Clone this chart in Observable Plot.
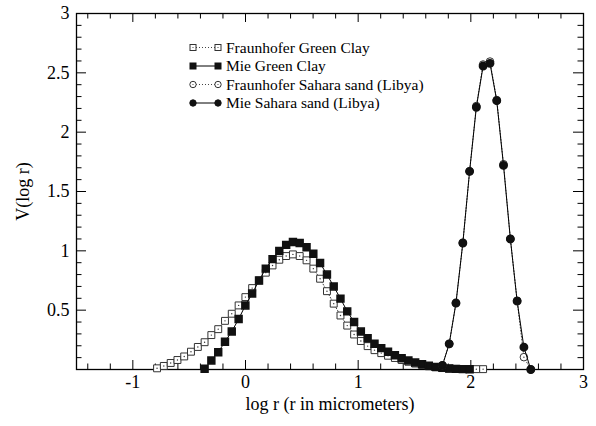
<!DOCTYPE html>
<html><head><meta charset="utf-8">
<script src="https://cdn.jsdelivr.net/npm/d3@7"></script>
<script src="https://cdn.jsdelivr.net/npm/@observablehq/plot@0.6"></script>
<style>body{margin:0;background:#fff}#chart{width:596px;height:426px}</style>
</head><body><div id="chart"></div>
<script>
// log r grid (r in micrometers)
const logR = [-0.785,-0.725,-0.664,-0.604,-0.544,-0.484,-0.423,-0.363,-0.303,-0.242,
  -0.182,-0.122,-0.061,-0.001,0.059,0.120,0.180,0.240,0.300,0.361,
  0.421,0.481,0.542,0.602,0.662,0.723,0.783,0.843,0.903,0.964,
  1.024,1.084,1.145,1.205,1.265,1.326,1.386,1.446,1.506,1.567,
  1.627,1.687,1.748,1.808,1.868,1.929,1.989,2.049,2.109,2.170,
  2.230,2.290,2.351,2.411,2.471,2.532];

const seriesNames = ["Fraunhofer Green Clay","Mie Green Clay","Fraunhofer Sahara sand (Libya)","Mie Sahara sand (Libya)"];
const seriesStart = [0, 7, 42, 42]; // index into logR of each series' first value

const fraunhoferClay = [0.010,0.030,0.055,0.080,0.110,0.150,0.190,0.230,0.290,0.340,
  0.410,0.470,0.540,0.610,0.686,0.750,0.816,0.877,0.925,0.956,
  0.970,0.956,0.920,0.850,0.765,0.660,0.555,0.455,0.370,0.295,
  0.240,0.197,0.163,0.138,0.116,0.097,0.080,0.065,0.050,0.038,
  0.027,0.018,0.012,0.008,0.005,0.004,0.003,0.003,0.003];
const mieClay = [0.006,0.076,0.146,0.234,0.320,0.425,0.540,0.640,0.750,0.850,
  0.930,1.000,1.050,1.074,1.066,1.030,0.976,0.897,0.800,0.700,
  0.597,0.490,0.400,0.320,0.264,0.217,0.180,0.149,0.120,0.095,
  0.076,0.059,0.045,0.032,0.022,0.014,0.009,0.005,0.003,0.002];
const fraunhoferSand = [0.035,0.216,0.560,1.066,1.670,2.220,2.570,2.595,2.270,1.730,1.100,0.580,0.104,0.000];
const mieSand = [0.035,0.216,0.560,1.066,1.670,2.210,2.557,2.580,2.265,1.720,1.100,0.576,0.188,0.000];

const xTickLabels = [-1, 0, 1, 2, 3];
const yTickLabels = [0.5, 1, 1.5, 2, 2.5, 3];
const xMinorTicks = [-1.4,-1.2,-0.8,-0.6,-0.4,-0.2,0.2,0.4,0.6,0.8,1.2,1.4,1.6,1.8,2.2,2.4,2.6,2.8];
const xMajorTicks = [-1, 0, 1, 2];
const yMinorTicks = [0.1,0.2,0.3,0.4,0.6,0.7,0.8,0.9,1.1,1.2,1.3,1.4,1.6,1.7,1.8,1.9,2.1,2.2,2.3,2.4,2.6,2.7,2.8,2.9];
const yMajorTicks = [0.5, 1, 1.5, 2, 2.5];

const toRows = (vals, s) => vals.map((v, i) => ({x: logR[s + i], y: v}));
const fc = toRows(fraunhoferClay, seriesStart[0]);
const mc = toRows(mieClay, seriesStart[1]);
const fs = toRows(fraunhoferSand, seriesStart[2]);
const ms = toRows(mieSand, seriesStart[3]);

const W = 596, H = 426, mL = 76, mR = 13, mT = 13, mB = 57;
const xDom = [-1.5, 3], yDom = [0, 3];
const pxX = (W - mL - mR) / (xDom[1] - xDom[0]);
const pxY = (H - mT - mB) / (yDom[1] - yDom[0]);
const tick = (len, per) => len / per;
const FONT = "'Liberation Serif', 'DejaVu Serif', serif";

const plot = Plot.plot({
  width: W, height: H,
  marginLeft: mL, marginRight: mR, marginTop: mT, marginBottom: mB,
  x: {domain: xDom},
  y: {domain: yDom},
  style: {fontFamily: FONT, fontSize: "18px", color: "black", background: "white", overflow: "visible"},
  marks: [
    // tick marks pointing inward on all four sides
    Plot.ruleX(xMajorTicks, {x: d => d, y1: yDom[0], y2: yDom[0] + tick(9, pxY), stroke: "black"}),
    Plot.ruleX(xMinorTicks, {x: d => d, y1: yDom[0], y2: yDom[0] + tick(5.5, pxY), stroke: "black"}),
    Plot.ruleX(xMajorTicks, {x: d => d, y1: yDom[1], y2: yDom[1] - tick(9, pxY), stroke: "black"}),
    Plot.ruleX(xMinorTicks, {x: d => d, y1: yDom[1], y2: yDom[1] - tick(5.5, pxY), stroke: "black"}),
    Plot.ruleY(yMajorTicks, {y: d => d, x1: xDom[0], x2: xDom[0] + tick(10, pxX), stroke: "black"}),
    Plot.ruleY(yMinorTicks, {y: d => d, x1: xDom[0], x2: xDom[0] + tick(5.5, pxX), stroke: "black"}),
    Plot.ruleY(yMajorTicks, {y: d => d, x1: xDom[1], x2: xDom[1] - tick(10, pxX), stroke: "black"}),
    Plot.ruleY(yMinorTicks, {y: d => d, x1: xDom[1], x2: xDom[1] - tick(5.5, pxX), stroke: "black"}),
    Plot.frame({stroke: "black", strokeWidth: 1.3}),
    Plot.axisX({ticks: xTickLabels, tickSize: 0, tickPadding: 6, tickFormat: d => String(d), fontSize: 18,
      label: "log r (r in micrometers)", labelAnchor: "center", labelOffset: 40, labelArrow: false}),
    Plot.axisY({ticks: yTickLabels, tickSize: 0, tickPadding: 7, tickFormat: d => String(d), fontSize: 18,
      label: "V(log r)", labelAnchor: "center", labelOffset: 60, labelArrow: false}),
    // Fraunhofer Green Clay
    Plot.line(fc, {x: "x", y: "y", stroke: "#444", strokeWidth: 1, strokeDasharray: "1,2"}),
    Plot.dot(fc, {x: "x", y: "y", symbol: "square", r: 3.9, fill: "white", stroke: "#333", strokeWidth: 1}),
    Plot.dot(fc, {x: "x", y: "y", r: 0.7, fill: "#333"}),
    // Mie Green Clay
    Plot.line(mc, {x: "x", y: "y", stroke: "black", strokeWidth: 1}),
    Plot.dot(mc, {x: "x", y: "y", symbol: "square", r: 3.9, fill: "#111", stroke: "#111"}),
    // Fraunhofer Sahara sand
    Plot.line(fs, {x: "x", y: "y", stroke: "#444", strokeWidth: 1, strokeDasharray: "1,2"}),
    Plot.dot(fs, {x: "x", y: "y", r: 3.8, fill: "white", stroke: "#333", strokeWidth: 1}),
    Plot.dot(fs, {x: "x", y: "y", r: 0.7, fill: "#333"}),
    // Mie Sahara sand
    Plot.line(ms, {x: "x", y: "y", stroke: "black", strokeWidth: 1}),
    Plot.dot(ms, {x: "x", y: "y", r: 3.7, fill: "#111", stroke: "#111"})
  ]
});
document.getElementById("chart").appendChild(plot);

// legend inside the plot area
const svg = d3.select(plot);
const lg = svg.append("g").attr("font-family", FONT).attr("font-size", 15.5).attr("text-anchor", "start");
const rowY = [47.5, 66, 84.5, 103];
const styles = [
  {dash: "1,2", sym: "square", open: true},
  {dash: null, sym: "square", open: false},
  {dash: "1,2", sym: "circle", open: true},
  {dash: null, sym: "circle", open: false}
];
seriesNames.forEach((name, i) => {
  const y = rowY[i], s = styles[i];
  lg.append("line").attr("x1", 193).attr("x2", 218).attr("y1", y).attr("y2", y)
    .attr("stroke", s.open ? "#444" : "black").attr("stroke-dasharray", s.dash);
  [193, 218].forEach(cx => {
    if (s.sym === "square") {
      lg.append("rect").attr("x", cx - 3).attr("y", y - 3).attr("width", 6).attr("height", 6)
        .attr("fill", s.open ? "white" : "#111").attr("stroke", s.open ? "#333" : "#111");
    } else {
      lg.append("circle").attr("cx", cx).attr("cy", y).attr("r", 3.2)
        .attr("fill", s.open ? "white" : "#111").attr("stroke", s.open ? "#333" : "#111");
    }
    if (s.open) lg.append("circle").attr("cx", cx).attr("cy", y).attr("r", 0.6).attr("fill", "#333");
  });
  lg.append("text").attr("x", 226).attr("y", y).attr("dy", "0.33em").attr("text-anchor", "start").text(name);
});
</script>
</body></html>
